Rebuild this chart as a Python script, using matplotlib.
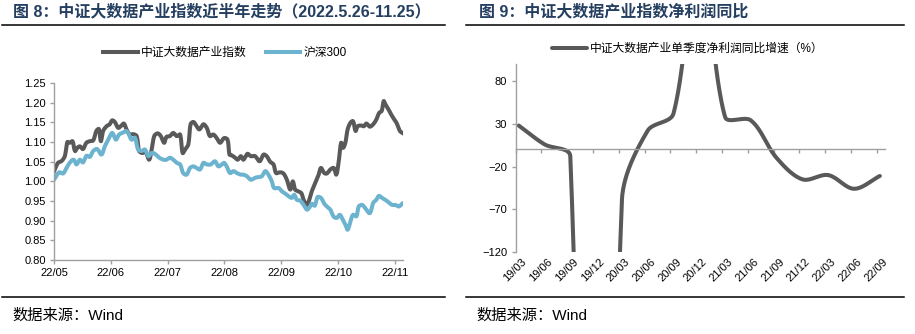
import numpy as np
import matplotlib
matplotlib.use("Agg")
import matplotlib.pyplot as plt
import matplotlib.transforms as mtransforms
from matplotlib.lines import Line2D

plt.rcParams["font.family"] = ["Liberation Sans", "Noto Sans CJK SC"]

# ---- left chart: index trend (x = trading days since 2022-05-26) ----
big_data_days = [0.0, 1.4, 2.6, 3.8, 4.7, 5.5, 6.5, 7.4, 8.2, 9.1, 10.2, 11.4, 12.6, 13.8,
                 14.9, 15.8, 16.5, 17.3, 18.5, 19.6, 20.5, 21.4, 22.6, 23.5, 24.6, 25.5,
                 26.7, 27.9, 29.1, 30.0, 31.2, 32.1, 33.5, 34.4, 35.3, 36.5, 37.6, 38.8,
                 39.6, 40.8, 42.0, 43.2, 44.4, 45.3, 46.2, 47.3, 48.1, 49.1, 50.2, 51.2,
                 52.6, 53.8, 54.9, 56.1, 57.3, 58.5, 59.9, 61.1, 61.8, 62.6, 63.8, 64.7,
                 65.8, 66.7, 68.1, 69.3, 70.8, 72.4, 73.8, 74.9, 76.1, 77.3, 78.2, 79.6,
                 80.8, 82.0, 83.2, 84.1, 84.9, 85.9, 87.1, 87.9, 89.1, 90.8, 92.0, 93.2,
                 94.0, 95.2, 96.1, 97.3, 98.5, 99.4, 100.2, 101.1, 101.8, 102.6, 103.4,
                 104.4, 105.3, 106.2, 106.9, 108.1, 109.1, 110.0, 111.2, 112.4, 113.5,
                 114.5, 115.4, 116.1, 116.7, 117.5, 118.5, 119.4, 120.6, 121.8, 122.7]
big_data_vals = [1.025, 1.047, 1.051, 1.064, 1.100, 1.098, 1.102, 1.077, 1.085, 1.089, 1.082,
                 1.098, 1.102, 1.104, 1.128, 1.133, 1.102, 1.128, 1.140, 1.145, 1.155, 1.151,
                 1.136, 1.140, 1.147, 1.132, 1.119, 1.120, 1.115, 1.077, 1.072, 1.077, 1.055,
                 1.081, 1.115, 1.122, 1.115, 1.098, 1.113, 1.115, 1.123, 1.115, 1.119, 1.072,
                 1.081, 1.094, 1.145, 1.151, 1.140, 1.132, 1.145, 1.136, 1.115, 1.119, 1.110,
                 1.098, 1.110, 1.106, 1.068, 1.066, 1.060, 1.055, 1.064, 1.055, 1.070, 1.064,
                 1.064, 1.051, 1.068, 1.064, 1.050, 1.043, 1.021, 1.023, 1.020, 1.004, 0.979,
                 1.000, 0.979, 0.975, 0.970, 0.953, 0.940, 0.975, 0.996, 1.017, 1.034, 1.021,
                 1.020, 1.030, 1.034, 1.017, 1.047, 1.098, 1.085, 1.098, 1.132, 1.149, 1.153,
                 1.128, 1.140, 1.142, 1.140, 1.147, 1.139, 1.145, 1.157, 1.174, 1.179, 1.204,
                 1.196, 1.187, 1.173, 1.162, 1.149, 1.128, 1.123]

hs300_days = [0.0, 0.8, 1.8, 3.2, 4.4, 5.5, 6.9, 7.9, 9.1, 10.2, 11.4, 12.6, 13.8, 15.2,
              16.7, 17.9, 19.1, 20.5, 21.8, 22.9, 24.1, 25.3, 26.1, 27.3, 28.5, 29.6, 30.8,
              32.0, 33.2, 34.4, 35.5, 37.1, 38.5, 39.6, 40.8, 42.0, 43.2, 44.4, 45.5, 46.7,
              47.9, 49.1, 50.2, 51.4, 52.6, 53.8, 55.2, 56.7, 57.9, 59.1, 59.9, 60.8, 62.0,
              63.2, 64.4, 65.8, 66.7, 67.9, 69.3, 70.8, 72.0, 73.2, 74.4, 75.5, 76.7, 77.5,
              79.1, 80.2, 81.4, 82.6, 83.8, 84.6, 85.5, 86.7, 88.1, 89.1, 90.0, 90.8, 91.8,
              92.8, 94.0, 95.2, 96.1, 97.3, 98.5, 99.6, 100.6, 101.4, 102.6, 103.4, 104.4,
              105.3, 106.5, 107.3, 108.5, 109.6, 111.2, 112.4, 113.5, 114.4, 115.5, 116.7,
              117.9, 119.1, 120.2, 121.4, 122.6]
hs300_vals = [1.004, 1.013, 1.023, 1.020, 1.034, 1.047, 1.055, 1.043, 1.055, 1.048, 1.065,
              1.062, 1.077, 1.082, 1.068, 1.089, 1.106, 1.123, 1.106, 1.119, 1.123, 1.128,
              1.123, 1.106, 1.111, 1.081, 1.077, 1.081, 1.064, 1.072, 1.070, 1.060, 1.055,
              1.055, 1.060, 1.055, 1.047, 1.043, 1.021, 1.017, 1.034, 1.038, 1.034, 1.030,
              1.047, 1.043, 1.043, 1.051, 1.038, 1.043, 1.047, 1.038, 1.021, 1.026, 1.021,
              1.017, 1.017, 1.013, 1.004, 1.009, 1.011, 1.013, 1.026, 1.017, 1.000, 0.983,
              0.983, 0.975, 0.969, 0.962, 0.958, 0.966, 0.953, 0.951, 0.938, 0.928, 0.934,
              0.943, 0.938, 0.960, 0.958, 0.943, 0.936, 0.928, 0.910, 0.907, 0.915, 0.907,
              0.890, 0.877, 0.898, 0.915, 0.911, 0.936, 0.940, 0.932, 0.919, 0.945, 0.953,
              0.963, 0.958, 0.953, 0.946, 0.940, 0.940, 0.936, 0.943]

month_labels = ["22/05", "22/06", "22/07", "22/08", "22/09", "22/10", "22/11"]
month_ticks = [0, 20, 40, 60, 80, 100, 120]

# ---- right chart: quarterly net profit yoy (%) ----
quarters = ["19/03", "19/06", "19/09", "19/12", "20/03", "20/06", "20/09", "20/12",
            "21/03", "21/06", "21/09", "21/12", "22/03", "22/06", "22/09"]
profit_yoy = [28, 6, -8, -1500, -60, 22, 42, 250, 38, 34, -10, -35, -30, -46, -31]

DARK = "#595959"
BLUE = "#6CB3CF"
AXIS = "#A0A0A0"
TITLE = "#243F60"

W, H = 915, 334


def fx(px):
    return px / W


def fy(py):
    return 1 - py / H


def excel_smooth(ax, xs, ys, n=60):
    # bezier smoothing in screen space, similar to spreadsheet "smoothed line"
    pts = ax.transData.transform(np.column_stack([xs, ys]))
    m = len(pts)
    t = np.linspace(0, 1, n)[:, None]
    out = []
    for i in range(m - 1):
        p0 = pts[max(i - 1, 0)]
        p1 = pts[i]
        p2 = pts[i + 1]
        p3 = pts[min(i + 2, m - 1)]
        d01 = np.hypot(*(p1 - p0))
        d12 = np.hypot(*(p2 - p1))
        d23 = np.hypot(*(p3 - p2))
        f1 = d12 / (d01 + d12) if d01 + d12 > 0 else 0
        f2 = d12 / (d12 + d23) if d12 + d23 > 0 else 0
        c1 = p1 + (p2 - p0) * f1 / 3
        c2 = p2 - (p3 - p1) * f2 / 3
        seg = (1 - t) ** 3 * p1 + 3 * (1 - t) ** 2 * t * c1 + 3 * (1 - t) * t ** 2 * c2 + t ** 3 * p2
        out.append(seg)
    return ax.transData.inverted().transform(np.vstack(out))


fig = plt.figure(figsize=(W / 100, H / 100), dpi=100)

# titles, rules and source notes
fig.text(fx(13), fy(12), "图 8：中证大数据产业指数近半年走势（2022.5.26-11.25）",
         fontsize=11.5, fontweight="bold", color=TITLE, va="center", ha="left")
fig.text(fx(479), fy(12), "图 9：中证大数据产业指数净利润同比",
         fontsize=11.5, fontweight="bold", color=TITLE, va="center", ha="left")
for x0, x1 in [(2, 445), (466, 904)]:
    for yy in (25, 297):
        fig.add_artist(Line2D([fx(x0), fx(x1)], [fy(yy), fy(yy)],
                              transform=fig.transFigure, color="black", lw=1.1))
fig.text(fx(12), fy(316), "数据来源：Wind", fontsize=11, va="center", ha="left")
fig.text(fx(476), fy(316), "数据来源：Wind", fontsize=11, va="center", ha="left")

# ---------------- left chart ----------------
ax1 = fig.add_axes([fx(54), fy(260), (403 - 54) / W, (260 - 83) / H])
ax1.set_xlim(0, 122.9)
ax1.set_ylim(0.80, 1.25)
for days, vals, col, name in [(big_data_days, big_data_vals, DARK, "中证大数据产业指数"),
                              (hs300_days, hs300_vals, BLUE, "沪深300")]:
    sm = excel_smooth(ax1, days, vals, n=12)
    ax1.plot(sm[:, 0], sm[:, 1], color=col, lw=2.9, solid_joinstyle="round", label=name)
ax1.set_yticks(np.arange(0.80, 1.2501, 0.05))
ax1.set_yticklabels([f"{v:.2f}" for v in np.arange(0.80, 1.2501, 0.05)])
ax1.set_xticks(month_ticks)
ax1.set_xticklabels(month_labels)
for s in ("top", "right"):
    ax1.spines[s].set_visible(False)
for s in ("left", "bottom"):
    ax1.spines[s].set_color(AXIS)
    ax1.spines[s].set_linewidth(1.0)
ax1.tick_params(axis="both", direction="out", length=3, width=1.0, color=AXIS,
                labelsize=8, pad=3)
ax1.legend(loc="center", bbox_to_anchor=(fx(225), fy(53)), bbox_transform=fig.transFigure,
           ncol=2, frameon=False, fontsize=8.5, handlelength=2.9, handletextpad=0.3,
           columnspacing=1.6)

# ---------------- right chart ----------------
ax2 = fig.add_axes([fx(515.7), fy(252), (885 - 515.7) / W, (252 - 64) / H])
shift = 0.116
ax2.set_xlim(-shift, 14.2)
ax2.set_ylim(-120, 100)
qx = np.arange(len(quarters))
curve = excel_smooth(ax2, qx, profit_yoy)
ax2.plot(curve[:, 0], curve[:, 1], color=DARK, lw=2.9, solid_capstyle="round",
         label="中证大数据产业单季度净利润同比增速（%）")
ax2.set_yticks([-120, -70, -20, 30, 80])
ax2.set_xticks(qx - shift)
ax2.tick_params(axis="x", labelbottom=False, direction="out", length=3, width=1.0, color=AXIS)
ax2.tick_params(axis="y", direction="out", length=3, width=1.0, color=AXIS, labelsize=8, pad=3)
ax2.spines["bottom"].set_position(("data", 0))
for s in ("top", "right"):
    ax2.spines[s].set_visible(False)
for s in ("left", "bottom"):
    ax2.spines[s].set_color(AXIS)
    ax2.spines[s].set_linewidth(1.0)
blend = mtransforms.blended_transform_factory(ax2.transData, ax2.transAxes)
for xi, lab in zip(qx, quarters):
    ax2.text(xi - shift + 0.22, -0.025, lab, transform=blend, rotation=45,
             rotation_mode="anchor", ha="right", va="top", fontsize=8)
ax2.legend(loc="center", bbox_to_anchor=(fx(688), fy(49)), bbox_transform=fig.transFigure,
           frameon=False, fontsize=8.5, handlelength=2.9, handletextpad=0.3)

fig.savefig("out.png", dpi=100)
